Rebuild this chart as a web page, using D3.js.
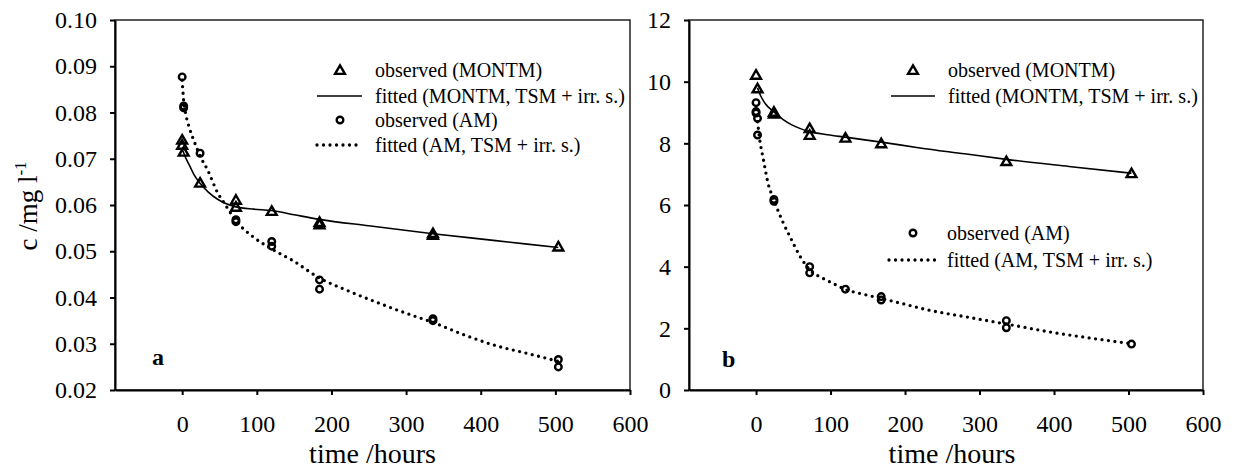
<!DOCTYPE html>
<html>
<head>
<meta charset="utf-8">
<script src="https://cdn.jsdelivr.net/npm/d3@7"></script>
<style>
    body { margin: 0; background: #fff; }
    .frame { fill: none; stroke: #222; stroke-width: 1.5; }
    .axis path, .axis line { stroke: #000; stroke-width: 2; }
    .fit-montm { fill: none; stroke: #000; stroke-width: 1.6; }
    .fit-am { fill: none; stroke: #000; stroke-width: 3.3; stroke-linecap: round; stroke-dasharray: 0 6.5; }
    .obs { fill: none; stroke: #000; stroke-width: 2.4; }
</style>
</head>
<body>
<svg id="canvas" width="1234" height="472"></svg>
<script>
// shared axis values
const xTicks = [0, 100, 200, 300, 400, 500, 600];
const yTicksA = [0.02, 0.03, 0.04, 0.05, 0.06, 0.07, 0.08, 0.09, 0.10];
const yTicksB = [0, 2, 4, 6, 8, 10, 12];

// panel a - observed (MONTM)
const obsMontmA_t = [0, 0, 2, 24, 72, 72, 120, 184, 184, 336, 336, 504];
const obsMontmA_c = [0.0741, 0.0730, 0.0715, 0.0648, 0.0611, 0.0596, 0.0587, 0.0563, 0.0558, 0.0539, 0.0535, 0.0510];
// panel a - observed (AM)
const obsAmA_t = [0, 2, 2, 24, 72, 72, 120, 120, 184, 184, 336, 336, 504, 504];
const obsAmA_c = [0.0877, 0.0814, 0.0810, 0.0712, 0.0568, 0.0564, 0.0521, 0.0511, 0.0438, 0.0418, 0.0354, 0.0350, 0.0266, 0.0250];
// panel a - fitted (MONTM)
const fitMontmA_t = [0, 2, 5, 10, 16, 24, 35, 48, 60, 72, 96, 120, 150, 184, 250, 336, 420, 504];
const fitMontmA_c = [0.0720, 0.0713, 0.0701, 0.0685, 0.0665, 0.0647, 0.0628, 0.0612, 0.0602, 0.0596, 0.0591, 0.0588, 0.0579, 0.0569, 0.0555, 0.0538, 0.0523, 0.0508];
// panel a - fitted (AM)
const fitAmA_t = [0, 2, 5, 10, 16, 24, 34, 48, 56, 72, 96, 120, 150, 184, 220, 260, 300, 336, 380, 420, 460, 504];
const fitAmA_c = [0.0870, 0.0825, 0.0795, 0.0765, 0.0738, 0.0706, 0.0676, 0.0625, 0.0605, 0.0566, 0.0530, 0.0505, 0.0478, 0.0442, 0.0416, 0.0390, 0.0366, 0.0346, 0.0318, 0.0296, 0.0280, 0.0262];

// panel b - observed (MONTM)
const obsMontmB_t = [0, 2, 24, 24, 72, 72, 120, 168, 336, 504];
const obsMontmB_c = [10.22, 9.78, 9.02, 8.96, 8.49, 8.27, 8.18, 8.00, 7.42, 7.03];
// panel b - observed (AM)
const obsAmB_t = [0, 0, 0, 2, 2, 24, 24, 72, 72, 120, 168, 168, 336, 336, 504];
const obsAmB_c = [9.32, 9.03, 8.98, 8.81, 8.27, 6.18, 6.12, 4.00, 3.80, 3.27, 3.03, 2.92, 2.25, 2.02, 1.49];
// panel b - fitted (MONTM)
const fitMontmB_t = [2, 6, 12, 24, 36, 48, 72, 96, 120, 168, 220, 280, 336, 420, 504];
const fitMontmB_c = [9.80, 9.55, 9.30, 9.02, 8.78, 8.60, 8.38, 8.28, 8.20, 8.04, 7.85, 7.66, 7.48, 7.25, 7.03];
// panel b - fitted (AM)
const fitAmB_t = [2, 5, 10, 16, 24, 36, 46, 60, 72, 90, 104, 121, 140, 168, 200, 230, 280, 336, 400, 450, 504];
const fitAmB_c = [8.70, 8.11, 7.46, 6.72, 6.16, 5.45, 4.95, 4.30, 3.90, 3.62, 3.45, 3.25, 3.13, 2.97, 2.78, 2.60, 2.38, 2.14, 1.86, 1.68, 1.50];

const legendLabels = ["observed (MONTM)", "fitted (MONTM, TSM + irr. s.)", "observed (AM)", "fitted (AM, TSM + irr. s.)"];

const SERIF = '"Liberation Serif"';
const svg = d3.select("#canvas");
const TOP = 20, BOTTOM = 390;

/**
 * Draws one marker (triangle or circle) centred on cx, cy.
 */
function marker(g, kind, cx, cy) {
    if (kind === "tri") {
        g.append("path")
            .attr("class", "obs")
            .attr("d", d3.symbol(d3.symbolTriangle, 42)())
            .attr("transform", `translate(${cx},${cy + 1})`);
    } else {
        g.append("circle")
            .attr("class", "obs")
            .attr("cx", cx)
            .attr("cy", cy)
            .attr("r", 3.3);
    }
}

/**
 * Renders one panel: frame, axes, fitted curves, observed points and legend.
 */
function drawPanel(p) {
    const x = d3.scaleLinear().domain([-90, 600]).range([p.left, p.right]);
    const y = d3.scaleLinear().domain(p.yDomain).range([BOTTOM, TOP]);
    const g = svg.append("g");

    g.append("rect")
        .attr("class", "frame")
        .attr("x", p.left)
        .attr("y", TOP)
        .attr("width", p.right - p.left)
        .attr("height", BOTTOM - TOP);

    g.append("g")
        .attr("class", "axis")
        .attr("transform", `translate(0,${BOTTOM})`)
        .call(d3.axisBottom(x).tickValues(xTicks).tickSize(5).tickPadding(20).tickSizeOuter(0))
        .attr("font-size", 24);

    g.append("g")
        .attr("class", "axis")
        .attr("transform", `translate(${p.left},0)`)
        .call(d3.axisLeft(y).tickValues(p.yTicks).tickFormat(p.fmt).tickSize(5).tickPadding(13).tickSizeOuter(0))
        .attr("font-size", 24);

    const line = d3.line().x(d => x(d[0])).y(d => y(d[1])).curve(d3.curveMonotoneX);

    g.append("path").attr("class", "fit-montm").attr("d", line(d3.zip(p.fitMontm_t, p.fitMontm_c)));
    g.append("path").attr("class", "fit-am").attr("d", line(d3.zip(p.fitAm_t, p.fitAm_c)));

    d3.zip(p.obsMontm_t, p.obsMontm_c).forEach(d => marker(g, "tri", x(d[0]), y(d[1])));
    d3.zip(p.obsAm_t, p.obsAm_c).forEach(d => marker(g, "circ", x(d[0]), y(d[1])));

    // legend rows
    const lg = g.append("g");
    p.legend.forEach((row, i) => {
        if (row.kind === "tri" || row.kind === "circ") {
            marker(lg, row.kind, row.mx, row.y);
        } else {
            lg.append("line")
                .attr("class", row.kind === "solid" ? "fit-montm" : "fit-am")
                .attr("x1", row.x1).attr("x2", row.x2)
                .attr("y1", row.y).attr("y2", row.y);
        }
        lg.append("text")
            .attr("x", row.tx)
            .attr("y", row.y + 7)
            .attr("font-size", 20)
            .text(legendLabels[i]);
    });

    g.append("text")
        .attr("x", p.tag[0])
        .attr("y", p.tag[1])
        .attr("font-size", 24)
        .attr("font-weight", "bold")
        .text(p.tagText);

    g.append("text")
        .attr("x", (p.left + p.right) / 2 + p.titleShift)
        .attr("y", 463)
        .attr("text-anchor", "middle")
        .attr("font-size", 28)
        .text("time /hours");
}

drawPanel({
    left: 115, right: 630,
    yDomain: [0.02, 0.10], yTicks: yTicksA, fmt: d3.format(".2f"),
    obsMontm_t: obsMontmA_t, obsMontm_c: obsMontmA_c,
    obsAm_t: obsAmA_t, obsAm_c: obsAmA_c,
    fitMontm_t: fitMontmA_t, fitMontm_c: fitMontmA_c,
    fitAm_t: fitAmA_t, fitAm_c: fitAmA_c,
    legend: [
        {kind: "tri", mx: 340, y: 70, tx: 375},
        {kind: "solid", x1: 317, x2: 362, y: 96, tx: 375},
        {kind: "circ", mx: 340, y: 120, tx: 375},
        {kind: "dot", x1: 317, x2: 362, y: 145, tx: 375}
    ],
    tag: [152, 365], tagText: "a", titleShift: 0
});

drawPanel({
    left: 689, right: 1203,
    yDomain: [0, 12], yTicks: yTicksB, fmt: d3.format("d"),
    obsMontm_t: obsMontmB_t, obsMontm_c: obsMontmB_c,
    obsAm_t: obsAmB_t, obsAm_c: obsAmB_c,
    fitMontm_t: fitMontmB_t, fitMontm_c: fitMontmB_c,
    fitAm_t: fitAmB_t, fitAm_c: fitAmB_c,
    legend: [
        {kind: "tri", mx: 913, y: 70, tx: 948},
        {kind: "solid", x1: 891, x2: 935, y: 96, tx: 948},
        {kind: "circ", mx: 913, y: 233, tx: 947},
        {kind: "dot", x1: 889, x2: 935, y: 260, tx: 947}
    ],
    tag: [722, 367], tagText: "b", titleShift: 6
});

// y axis title, panel a only
const yTitle = svg.append("text")
    .attr("transform", "translate(37,206) rotate(-90)")
    .attr("text-anchor", "middle")
    .attr("font-size", 27);
yTitle.append("tspan").text("c /mg l");
yTitle.append("tspan").attr("font-size", 17).attr("dy", -11).text("-1");

// every text in Times-like serif
svg.selectAll("text").style("font-family", SERIF).style("fill", "#000");
</script>
</body>
</html>
